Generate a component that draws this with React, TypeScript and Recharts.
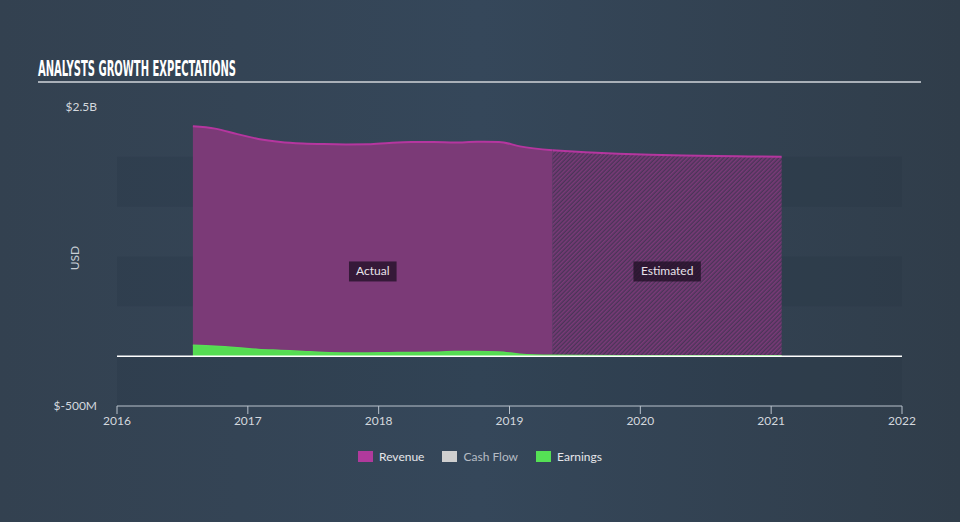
import * as React from "react";
import {
  ComposedChart,
  Area,
  XAxis,
  YAxis,
  ReferenceArea,
  ReferenceLine,
} from "recharts";

// years as decimals, values in USD millions
const actualDates = [
  2016.58, 2016.75, 2016.92, 2017.08, 2017.25, 2017.42, 2017.58, 2017.75, 2017.92,
  2018.08, 2018.25, 2018.42, 2018.58, 2018.75, 2018.92, 2019.08, 2019.33,
];
const revenueActual = [
  2306, 2283, 2228, 2180, 2150, 2135, 2128, 2125, 2127,
  2140, 2148, 2148, 2143, 2152, 2150, 2105, 2065,
];
const earningsActual = [
  110, 100, 85, 68, 58, 48, 38, 33, 33,
  35, 37, 40, 46, 47, 43, 20, 8,
];

const estimateDates = [2019.58, 2019.83, 2020.08, 2020.33, 2020.58, 2020.83, 2021.08];
const revenueEstimated = [2045, 2030, 2020, 2013, 2008, 2004, 2002];
const earningsEstimated = [6, 5, 5, 5, 5, 5, 5];

const yearTicks = [2016, 2017, 2018, 2019, 2020, 2021, 2022];
const valueTicks = [-500, 2500];
const bands: [number, number][] = [
  [1500, 2000],
  [500, 1000],
  [-500, 0],
];

const splitDate = actualDates[actualDates.length - 1];
const endDate = estimateDates[estimateDates.length - 1];

type Row = {
  date: number;
  revenue: number | null;
  revenueEst: number | null;
  earnings: number;
};

const rows: Row[] = [
  ...actualDates.map((d, i) => ({
    date: d,
    revenue: revenueActual[i],
    revenueEst: d === splitDate ? revenueActual[i] : null,
    earnings: earningsActual[i],
  })),
  ...estimateDates.map((d, i) => ({
    date: d,
    revenue: null,
    revenueEst: revenueEstimated[i],
    earnings: earningsEstimated[i],
  })),
];

const font = "Lato, 'Open Sans', sans-serif";

const fmtValue = (v: number) => (v >= 1000 ? `$${v / 1000}B` : `$${v}M`);

function TagLabel(props: any) {
  const { viewBox, value } = props;
  if (!viewBox) return null;
  const cx = viewBox.x + viewBox.width / 2;
  const cy = viewBox.y + viewBox.height / 2;
  const w = value.length * 6.6 + 8;
  return (
    <g>
      <rect x={cx - w / 2} y={cy - 10} width={w} height={20} fill="rgba(30,15,35,0.75)" />
      <text
        x={cx}
        y={cy + 4}
        textAnchor="middle"
        fill="#e8e2ea"
        fontSize={12}
        fontFamily={font}
      >
        {value}
      </text>
    </g>
  );
}

const legendItems = [
  { name: "Revenue", color: "#b03a9c", text: "#e6e6ea" },
  { name: "Cash Flow", color: "#cfcfcf", text: "#b5bcc4" },
  { name: "Earnings", color: "#55e055", text: "#e6e6ea" },
];

export default function App() {
  return (
    <div
      style={{
        position: "absolute",
        left: 0,
        top: 0,
        width: 960,
        height: 522,
        background: "linear-gradient(90deg, #334150 0%, #35475a 50%, #303d4a 100%)",
        fontFamily: font,
        overflow: "hidden",
      }}
    >
      <svg style={{ position: "absolute", left: 0, top: 0 }} width={960} height={522}>
        <text
          x={38}
          y={76}
          fill="#ffffff"
          fontSize={21}
          fontWeight={700}
          fontFamily="'DejaVu Sans Condensed', 'Liberation Sans Narrow', sans-serif"
          textLength={198}
          lengthAdjust="spacingAndGlyphs"
        >
          ANALYSTS GROWTH EXPECTATIONS
        </text>
        <rect x={38} y={81} width={883} height={2} fill="#a9b0b8" />
        <text
          x={0}
          y={0}
          transform="translate(79 258) rotate(-90)"
          textAnchor="middle"
          fill="#c9cfd6"
          fontSize={12}
          fontFamily={font}
        >
          USD
        </text>
      </svg>

      <div style={{ position: "absolute", left: 0, top: 0 }}>
        <ComposedChart
          width={960}
          height={522}
          data={rows}
          margin={{ top: 107, right: 58, left: 0, bottom: 86 }}
        >
          <defs>
            <pattern
              id="hatch"
              width="3"
              height="3"
              patternUnits="userSpaceOnUse"
              patternTransform="rotate(45)"
            >
              <rect width="3" height="3" fill="#4a3558" />
              <rect width="1.6" height="3" fill="#7a3a78" />
            </pattern>
          </defs>
          <XAxis
            dataKey="date"
            type="number"
            domain={[2016, 2022]}
            ticks={yearTicks}
            height={30}
            stroke="#b9c2cc"
            tickLine={{ stroke: "#b9c2cc" }}
            tickSize={8}
            tick={{ fill: "#d3d8de", fontSize: 12, fontFamily: font }}
            allowDataOverflow
          />
          <YAxis
            type="number"
            domain={[-500, 2500]}
            ticks={valueTicks}
            width={117}
            axisLine={false}
            tickLine={false}
            tickMargin={14}
            tickFormatter={fmtValue}
            tick={{ fill: "#d3d8de", fontSize: 12, fontFamily: font }}
          />
          {bands.map(([a, b]) => (
            <ReferenceArea
              key={a}
              y1={a}
              y2={b}
              x1={2016}
              x2={2022}
              fill="#1f2a36"
              fillOpacity={0.14}
              stroke="none"
              ifOverflow="hidden"
            />
          ))}
          <Area
            type="monotone"
            dataKey="revenue"
            stroke="#b5369f"
            strokeWidth={2}
            fill="#7b3a77"
            fillOpacity={1}
            connectNulls={false}
            isAnimationActive={false}
            dot={false}
            activeDot={false}
          />
          <Area
            type="monotone"
            dataKey="revenueEst"
            stroke="#b5369f"
            strokeWidth={2}
            fill="url(#hatch)"
            fillOpacity={1}
            connectNulls={false}
            isAnimationActive={false}
            dot={false}
            activeDot={false}
          />
          <Area
            type="monotone"
            dataKey="earnings"
            stroke="#58de55"
            strokeWidth={1.5}
            fill="#55dc52"
            fillOpacity={1}
            isAnimationActive={false}
            dot={false}
            activeDot={false}
          />
          <ReferenceLine y={0} stroke="#ffffff" strokeWidth={1.5} />
          <ReferenceArea
            x1={actualDates[0]}
            x2={splitDate}
            y1={0}
            y2={1700}
            fill="none"
            stroke="none"
            label={<TagLabel value="Actual" />}
          />
          <ReferenceArea
            x1={splitDate}
            x2={endDate}
            y1={0}
            y2={1700}
            fill="none"
            stroke="none"
            label={<TagLabel value="Estimated" />}
          />
        </ComposedChart>
      </div>

      <div
        style={{
          position: "absolute",
          top: 449,
          left: 0,
          width: 960,
          display: "flex",
          justifyContent: "center",
          gap: 18,
          fontSize: 12,
        }}
      >
        {legendItems.map((it) => (
          <div key={it.name} style={{ display: "flex", alignItems: "center" }}>
            <span
              style={{
                display: "inline-block",
                width: 15,
                height: 11,
                background: it.color,
                marginRight: 6,
              }}
            />
            <span style={{ color: it.text }}>{it.name}</span>
          </div>
        ))}
      </div>
    </div>
  );
}
